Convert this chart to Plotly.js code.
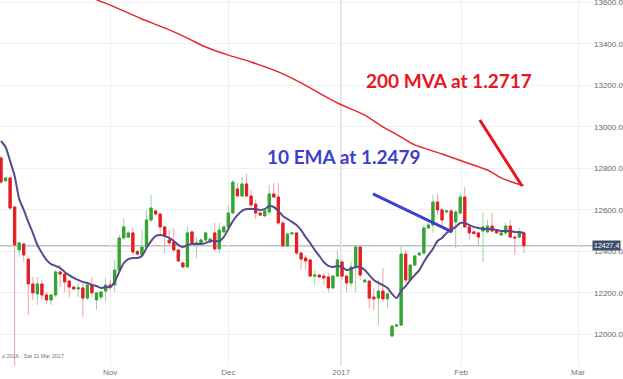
<!DOCTYPE html>
<html>
<head>
<meta charset="utf-8">
<script src="https://cdn.plot.ly/plotly-3.0.1.min.js"></script>
<style>html,body{margin:0;padding:0;background:#fff;}#chart{width:623px;height:379px;}</style>
</head>
<body>
<div id="chart"></div>
<script>
// daily candles (index = trading day, Sundays included as in FX feeds)
const openP = [12850,12740,12754,12614,12407,12436,12363,12243,12195,12243,
12190,12166,12190,12301,12291,12257,12228,12219,12224,12175,
12238,12166,12180,12209,12238,12238,12310,12465,12469,12489,
12400,12383,12421,12551,12595,12580,12518,12455,12445,12407,
12344,12325,12494,12436,12436,12455,12445,12489,12412,12494,
12518,12585,12701,12667,12725,12667,12628,12585,12571,12590,
12677,12662,12537,12426,12484,12489,12392,12368,12359,12281,
12286,12281,12277,12224,12281,12349,12281,12248,12325,12421,
12253,12257,12180,12175,12209,12171,11992,12040,12045,12387,
12262,12334,12383,12392,12513,12527,12638,12600,12590,12595,
12542,12585,12662,12518,12494,12489,12498,12494,12522,12498,
12479,12489,12522,12469,12469,12489];
const closeP = [12734,12754,12609,12431,12441,12383,12243,12200,12243,12190,
12166,12190,12301,12291,12253,12228,12219,12224,12175,12238,
12200,12200,12204,12238,12228,12310,12465,12518,12489,12397,
12387,12421,12551,12609,12580,12518,12479,12441,12407,12354,
12325,12489,12441,12441,12455,12489,12460,12412,12503,12518,
12585,12734,12667,12725,12667,12624,12585,12575,12595,12677,
12662,12537,12426,12484,12489,12392,12363,12354,12281,12286,
12277,12272,12224,12281,12359,12281,12248,12325,12421,12286,
12262,12175,12171,12209,12171,12195,12040,12045,12387,12262,
12334,12378,12392,12513,12527,12638,12600,12551,12595,12494,
12590,12662,12518,12489,12486,12469,12518,12522,12498,12489,
12489,12522,12469,12465,12489,12427.4];
const highP = [12860,12756,12758,12614,12441,12440,12366,12277,12277,12262,
12204,12195,12310,12334,12296,12262,12233,12248,12248,12243,
12277,12204,12214,12272,12262,12359,12479,12561,12498,12513,
12407,12503,12600,12672,12600,12585,12522,12503,12513,12412,
12349,12518,12498,12469,12465,12494,12465,12537,12537,12527,
12624,12744,12730,12758,12773,12696,12648,12590,12600,12720,
12730,12730,12551,12489,12494,12494,12397,12383,12363,12310,
12291,12296,12296,12286,12407,12359,12286,12349,12431,12426,
12265,12262,12224,12262,12320,12204,12045,12048,12421,12407,
12340,12383,12397,12527,12537,12672,12677,12609,12600,12604,
12600,12681,12710,12527,12498,12494,12590,12551,12585,12503,
12494,12537,12551,12479,12513,12494];
const lowP = [12725,12736,12600,11840,12373,12349,12094,12166,12142,12166,
12150,12142,12180,12228,12204,12180,12214,12180,12084,12166,
12180,12118,12166,12156,12214,12204,12296,12455,12465,12387,
12380,12373,12416,12542,12575,12479,12392,12431,12397,12349,
12320,12320,12431,12368,12431,12445,12436,12400,12392,12489,
12513,12585,12662,12662,12662,12609,12556,12571,12566,12575,
12657,12527,12421,12421,12479,12383,12315,12310,12277,12238,
12272,12238,12204,12219,12277,12262,12204,12228,12204,12262,
12250,12127,12118,12045,12156,12127,11990,12038,12040,12248,
12255,12330,12380,12383,12508,12489,12575,12518,12580,12489,
12416,12575,12513,12455,12484,12426,12349,12489,12494,12484,
12474,12479,12465,12383,12465,12392];
// 10 EMA
const ema10 = [12932,12903,12836,12763,12653,12600,12542,12489,12431,12392,
12359,12339,12330,12320,12301,12286,12272,12262,12253,12248,
12238,12233,12224,12228,12228,12253,12301,12344,12363,12368,
12368,12378,12416,12450,12474,12479,12474,12465,12450,12431,
12421,12431,12436,12436,12436,12440,12450,12450,12450,12469,
12508,12546,12575,12595,12604,12604,12604,12600,12604,12619,
12614,12595,12571,12556,12542,12527,12503,12469,12440,12407,
12378,12349,12330,12325,12330,12325,12310,12315,12325,12325,
12310,12286,12262,12248,12238,12224,12195,12175,12209,12233,
12262,12286,12310,12349,12383,12412,12450,12465,12489,12503,
12518,12537,12537,12527,12518,12513,12508,12508,12508,12503,
12498,12498,12498,12493,12493,12489];
// 200-day moving average, read at selected days
const mvaIdx = [21,24,31,36,41,45,50,55,61,66,70,74,80,84,88,91,97,102,107,110,113,115];
const mvaVal = [13612,13587,13520,13477,13428,13385,13346,13313,13265,13212,13163,13115,13057,13000,12951,12913,12869,12831,12792,12754,12730,12717];
const lastPrice = 12427.4;
const xTickPos = [24, 50, 74.8, 101.2, 126.9];
const xTickText = ['Nov', 'Dec', '2017', 'Feb', 'Mar'];
const yTicks = [12000, 12200, 12400, 12600, 12800, 13000, 13200, 13400, 13600];

const idx = openP.map((_, i) => i);
const bodyHigh = openP.map((o, i) => Math.max(o, closeP[i]));
const bodyLow = openP.map((o, i) => Math.min(o, closeP[i]));

const GREEN = '#33a532', RED = '#e41d25';
const traces = [
  { type: 'candlestick', x: idx, open: openP, high: highP, low: lowP, close: closeP,
    increasing: { line: { color: '#9fd69a', width: 1 }, fillcolor: '#9fd69a' },
    decreasing: { line: { color: '#f3a2a2', width: 1 }, fillcolor: '#f3a2a2' },
    whiskerwidth: 0, hoverinfo: 'skip' },
  { type: 'candlestick', x: idx, open: openP, high: bodyHigh, low: bodyLow, close: closeP,
    increasing: { line: { color: GREEN, width: 1 }, fillcolor: GREEN },
    decreasing: { line: { color: RED, width: 1 }, fillcolor: RED },
    whiskerwidth: 0, hoverinfo: 'skip' },
  { type: 'scatter', mode: 'lines', x: idx, y: ema10,
    line: { color: '#5a4a8c', width: 2, shape: 'spline', smoothing: 0.6 }, hoverinfo: 'skip' },
  { type: 'scatter', mode: 'lines', x: mvaIdx, y: mvaVal,
    line: { color: '#e8262b', width: 1.5, shape: 'spline', smoothing: 0.6 }, hoverinfo: 'skip' }
];

const layout = {
  width: 623, height: 379,
  margin: { l: 0, r: 30, t: 0, b: 13 },
  paper_bgcolor: '#ffffff', plot_bgcolor: '#ffffff',
  showlegend: false,
  font: { family: 'Liberation Sans, Arial, sans-serif', size: 8, color: '#666' },
  xaxis: {
    range: [-0.22, 130.2], rangeslider: { visible: false },
    tickvals: xTickPos, ticktext: xTickText,
    showgrid: true, gridcolor: '#efeff3', gridwidth: 1, zeroline: false, showline: false,
    ticks: '', tickfont: { size: 8, color: '#777' }, fixedrange: true
  },
  yaxis: {
    range: [11847.7, 13611.5], side: 'right',
    tickvals: yTicks, ticktext: yTicks.map(v => v.toFixed(1)),
    showgrid: true, gridcolor: '#efeff3', gridwidth: 1, zeroline: false, showline: false,
    ticks: '', tickfont: { size: 8, color: '#666' }, fixedrange: true,
    ticklabeloverflow: 'allow'
  },
  shapes: [
    { type: 'line', xref: 'x', yref: 'paper', x0: 74.8, x1: 74.8, y0: 0, y1: 1,
      line: { color: '#d9dbe0', width: 2 }, layer: 'below' },
    { type: 'line', xref: 'paper', yref: 'y', x0: 0, x1: 1, y0: lastPrice, y1: lastPrice,
      line: { color: '#b9c1cd', width: 1.5 }, layer: 'below' },
    { type: 'line', xref: 'x', yref: 'y', x0: 81.8, y0: 12677, x1: 99.2, y1: 12494,
      line: { color: '#3a44d0', width: 3 } },
    { type: 'line', xref: 'x', yref: 'y', x0: 105.3, y0: 13033, x1: 114.6, y1: 12715,
      line: { color: '#e8161c', width: 3 } }
  ],
  annotations: [
    { xref: 'x', yref: 'y', x: 98.5, y: 13224, text: '<b>200 MVA at 1.2717</b>', showarrow: false,
      font: { family: 'Lato, Open Sans, sans-serif', size: 19, color: '#e8161c' } },
    { xref: 'x', yref: 'y', x: 75.4, y: 12855, text: '<b>10 EMA at 1.2479</b>', showarrow: false,
      font: { family: 'Lato, Open Sans, sans-serif', size: 19, color: '#3b3fcb' } },
    { xref: 'paper', yref: 'y', x: 1, xanchor: 'left', xshift: -1, y: lastPrice, text: '12427.4', showarrow: false,
      bgcolor: '#3c4e6a', borderpad: 1, font: { size: 7, color: '#ffffff' } },
    { xref: 'paper', yref: 'paper', x: 0, xanchor: 'left', y: 10 / 366, yanchor: 'middle',
      text: 'p 2016 - Sat 11 Mar 2017', showarrow: false, font: { size: 5.5, color: '#777' } }
  ]
};

Plotly.newPlot('chart', traces, layout, { staticPlot: true, displayModeBar: false });
</script>
</body>
</html>
